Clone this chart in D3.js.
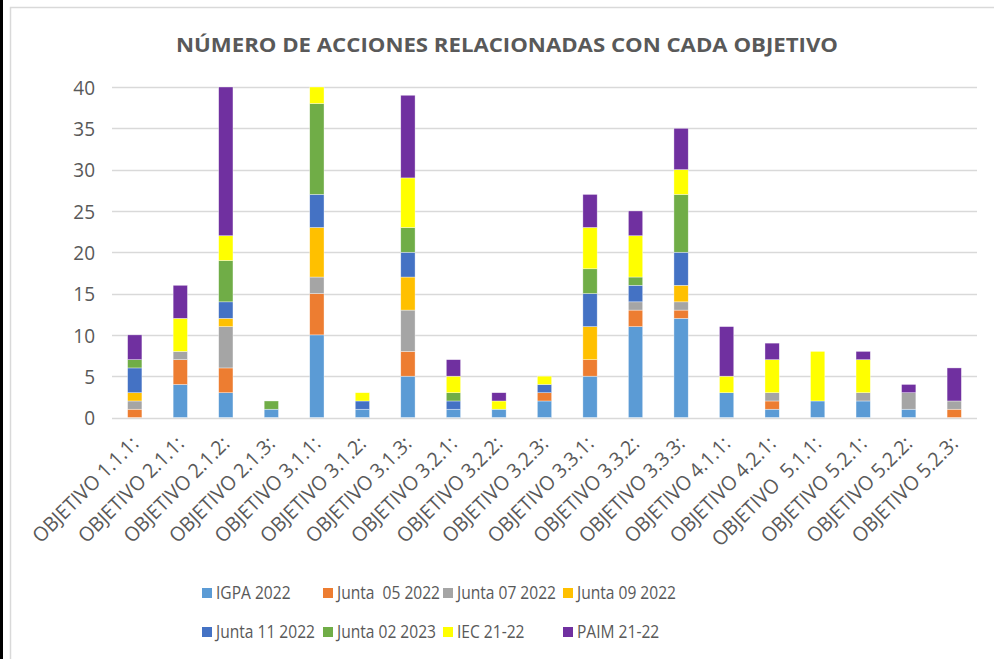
<!DOCTYPE html>
<html>
<head>
<meta charset="utf-8">
<script src="https://cdn.jsdelivr.net/npm/d3@7"></script>
<style>
  html, body { margin: 0; padding: 0; background: #fff; }
  svg { display: block; }
  text { font-family: "Open Sans", "Liberation Sans", sans-serif; }
</style>
</head>
<body>
<svg id="chart" width="994" height="659"></svg>
<script>
const categories = ["OBJETIVO 1.1.1:", "OBJETIVO 2.1.1:", "OBJETIVO 2.1.2:", "OBJETIVO 2.1.3:", "OBJETIVO 3.1.1:",
  "OBJETIVO 3.1.2:", "OBJETIVO 3.1.3:", "OBJETIVO 3.2.1:", "OBJETIVO 3.2.2:", "OBJETIVO 3.2.3:",
  "OBJETIVO 3.3.1:", "OBJETIVO 3.3.2:", "OBJETIVO 3.3.3:", "OBJETIVO 4.1.1:", "OBJETIVO 4.2.1:",
  "OBJETIVO  5.1.1:", "OBJETIVO 5.2.1:", "OBJETIVO 5.2.2:", "OBJETIVO 5.2.3:"];
const seriesNames = ["IGPA 2022", "Junta  05 2022", "Junta 07 2022", "Junta 09 2022",
  "Junta 11 2022", "Junta 02 2023", "IEC 21-22", "PAIM 21-22"];
const seriesColors = ["#5B9BD5", "#ED7D31", "#A5A5A5", "#FFC000", "#4472C4", "#70AD47", "#FFFF00", "#7030A0"];
const igpa2022   = [0, 4, 3, 1, 10, 1, 5, 1, 1, 2, 5, 11, 12, 3, 1, 2, 2, 1, 0];
const junta052022 = [1, 3, 3, 0, 5, 0, 3, 0, 0, 1, 2, 2, 1, 0, 1, 0, 0, 0, 1];
const junta072022 = [1, 1, 5, 0, 2, 0, 5, 0, 0, 0, 0, 1, 1, 0, 1, 0, 1, 2, 1];
const junta092022 = [1, 0, 1, 0, 6, 0, 4, 0, 0, 0, 4, 0, 2, 0, 0, 0, 0, 0, 0];
const junta112022 = [3, 0, 2, 0, 4, 1, 3, 1, 0, 1, 4, 2, 4, 0, 0, 0, 0, 0, 0];
const junta022023 = [1, 0, 5, 1, 11, 0, 3, 1, 0, 0, 3, 1, 7, 0, 0, 0, 0, 0, 0];
const iec2122    = [0, 4, 3, 0, 2, 1, 6, 2, 1, 1, 5, 5, 3, 2, 4, 6, 4, 0, 0];
const paim2122   = [3, 4, 18, 0, 0, 0, 10, 2, 1, 0, 4, 3, 5, 6, 2, 0, 1, 1, 4];
const seriesValues = [igpa2022, junta052022, junta072022, junta092022, junta112022, junta022023, iec2122, paim2122];
const yTicks = [0, 5, 10, 15, 20, 25, 30, 35, 40];

const svg = d3.select("#chart");
const textColor = "#595959";

// outer frame
svg.append("rect").attr("x", 0).attr("y", 0).attr("width", 3).attr("height", 659).attr("fill", "#000");
svg.append("path").attr("d", "M10.5,659 V7.5 H994").attr("fill", "none").attr("stroke", "#D9D9D9").attr("stroke-width", 1.5);

const x = d3.scaleBand().domain(categories).range([112, 977]).paddingInner(0.686).paddingOuter(0.343);
const y = d3.scaleLinear().domain([0, 40]).range([417.5, 87]);

// gridlines
svg.append("g").selectAll("line").data(yTicks).join("line")
  .attr("x1", 112).attr("x2", 977)
  .attr("y1", d => Math.round(y(d)) + 0.5).attr("y2", d => Math.round(y(d)) + 0.5)
  .attr("stroke", "#D9D9D9").attr("stroke-width", 1.3);

// stacked data
const table = categories.map((c, i) => {
  const o = { cat: c };
  seriesNames.forEach((s, j) => { o[s] = seriesValues[j][i]; });
  return o;
});
const stack = d3.stack().keys(seriesNames)(table);

svg.append("g").selectAll("g").data(stack).join("g")
  .attr("fill", (d, i) => seriesColors[i])
  .selectAll("rect").data(d => d.filter(p => p[1] - p[0] > 0)).join("rect")
  .attr("x", d => x(d.data.cat))
  .attr("width", x.bandwidth())
  .attr("y", d => y(d[1]))
  .attr("height", d => y(d[0]) - y(d[1]))
  .attr("stroke", "#fff").attr("stroke-width", 0.6).attr("stroke-opacity", 0.6);

// y axis
const yAxis = d3.axisLeft(y).tickValues(yTicks).tickSize(0).tickPadding(0);
const gy = svg.append("g").attr("transform", "translate(95,0)").call(yAxis);
gy.select(".domain").remove();
gy.selectAll("text").attr("fill", textColor).style("font-size", "20px")
  .style("font-family", "'Open Sans', sans-serif").attr("dy", "0.36em")
  .attr("transform", "scale(0.95,1)");

// x axis
const xAxis = d3.axisBottom(x).tickSize(0).tickPadding(0);
const gx = svg.append("g").attr("transform", "translate(0,418)").call(xAxis);
gx.select(".domain").remove();
gx.selectAll("text")
  .attr("fill", textColor).style("font-size", "20px").style("white-space", "pre")
  .style("font-family", "'Open Sans', sans-serif")
  .attr("text-anchor", "end")
  .attr("dy", null).attr("y", 0)
  .attr("transform", "translate(5,27) rotate(-45) scale(0.97,1)");

// title
svg.append("text").attr("x", 507).attr("y", 52).attr("text-anchor", "middle")
  .attr("fill", textColor).style("font-size", "20px").style("font-weight", "bold")
  .style("font-family", "'Open Sans', sans-serif")
  .attr("textLength", 662).attr("lengthAdjust", "spacingAndGlyphs")
  .text("NÚMERO DE ACCIONES RELACIONADAS CON CADA OBJETIVO");

// legend
const legX = [207, 328, 448, 568];
const legY = [593, 632];
const leg = svg.append("g").selectAll("g").data(seriesNames).join("g")
  .attr("transform", (d, i) => `translate(${legX[i % 4]},${legY[Math.floor(i / 4)]})`);
leg.append("rect").attr("x", -5).attr("y", -5).attr("width", 10).attr("height", 10)
  .attr("fill", (d, i) => seriesColors[i]);
leg.append("text").attr("x", 0).attr("y", 0).attr("dy", "0.36em")
  .attr("transform", "translate(9,0) scale(0.875,1)")
  .attr("fill", textColor).style("font-size", "17.8px").style("white-space", "pre")
  .style("font-family", "'Open Sans', sans-serif")
  .text(d => d);
</script>
</body>
</html>
